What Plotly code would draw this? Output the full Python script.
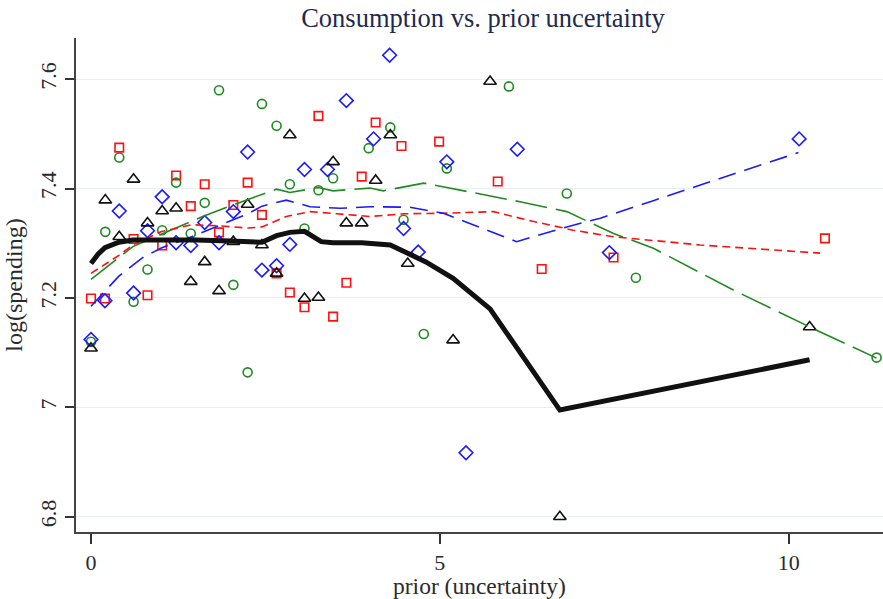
import plotly.graph_objects as go

# ---- data ----
green_x = [0, 0.205, 0.405, 0.61, 0.81, 1.02, 1.22, 1.43, 1.63, 1.835, 2.04, 2.245, 2.45, 2.66,
           2.85, 3.06, 3.26, 3.47, 3.98, 4.29, 4.48, 4.77, 5.10, 5.99, 6.82, 7.81, 11.26]
green_y = [7.12, 7.321, 7.457, 7.193, 7.252, 7.324, 7.411, 7.318, 7.374, 7.580, 7.224, 7.064, 7.555, 7.515,
           7.408, 7.327, 7.397, 7.419, 7.474, 7.512, 7.343, 7.134, 7.437, 7.587, 7.391, 7.237, 7.091]

red_x = [0, 0.2, 0.405, 0.61, 0.81, 1.02, 1.22, 1.43, 1.63, 1.835, 2.04, 2.245, 2.45, 2.66,
         2.85, 3.06, 3.26, 3.47, 3.66, 3.88, 4.08, 4.45, 4.99, 5.83, 6.46, 7.49, 10.52]
red_y = [7.199, 7.199, 7.475, 7.308, 7.205, 7.296, 7.424, 7.368, 7.408, 7.320, 7.37, 7.411, 7.352, 7.245,
         7.210, 7.183, 7.533, 7.166, 7.228, 7.422, 7.521, 7.478, 7.486, 7.413, 7.253, 7.274, 7.309]

blue_x = [0, 0.2, 0.405, 0.61, 0.81, 1.02, 1.22, 1.43, 1.63, 1.835, 2.04, 2.245, 2.45, 2.66,
          2.85, 3.06, 3.39, 3.66, 4.05, 4.28, 4.48, 4.69, 5.10, 5.375, 6.11, 7.43, 10.15]
blue_y = [7.124, 7.195, 7.359, 7.209, 7.323, 7.385, 7.301, 7.296, 7.338, 7.301, 7.358, 7.467, 7.251, 7.259,
          7.298, 7.435, 7.435, 7.561, 7.491, 7.644, 7.327, 7.284, 7.449, 6.917, 7.472, 7.283, 7.491]

black_x = [0, 0.205, 0.405, 0.61, 0.81, 1.02, 1.22, 1.43, 1.63, 1.835, 2.04, 2.245, 2.45, 2.66,
           2.85, 3.06, 3.26, 3.47, 3.66, 3.88, 4.08, 4.29, 4.54, 5.19, 5.72, 6.72, 10.30]
black_y = [7.108, 7.379, 7.312, 7.417, 7.337, 7.359, 7.364, 7.230, 7.266, 7.213, 7.303, 7.371, 7.297, 7.245,
           7.498, 7.199, 7.201, 7.449, 7.337, 7.337, 7.415, 7.498, 7.263, 7.123, 7.596, 6.80, 7.147]

# smoothed fits
fit_black_x = [0, 0.1, 0.2, 0.4, 0.6, 1.0, 1.5, 2.0, 2.45, 2.66, 2.85, 3.06, 3.2, 3.3, 3.47, 3.88, 4.29, 4.54, 4.8, 5.19, 5.72, 6.72, 10.30]
fit_black_y = [7.263, 7.280, 7.292, 7.302, 7.306, 7.307, 7.306, 7.304, 7.302, 7.314, 7.320, 7.322, 7.312, 7.303,
               7.301, 7.301, 7.297, 7.282, 7.266, 7.236, 7.180, 6.995, 7.087]

fit_green_x = [0, 0.4, 0.6, 1.0, 1.6, 2.2, 2.66, 2.85, 3.26, 3.47, 4.0, 4.19, 4.77, 5.1, 6.15, 6.82, 7.49, 8.06, 9.2, 10.4, 11.26]
fit_green_y = [7.234, 7.273, 7.294, 7.316, 7.349, 7.378, 7.399, 7.393, 7.402, 7.396, 7.401, 7.396, 7.410, 7.402,
               7.376, 7.358, 7.318, 7.291, 7.215, 7.141, 7.090]

fit_red_x = [0, 0.4, 0.6, 1.0, 1.44, 1.82, 2.25, 2.45, 2.8, 3.14, 3.52, 4.0, 4.48, 5.05, 5.77, 6.24, 6.91, 7.49, 8.73, 10.45]
fit_red_y = [7.245, 7.278, 7.297, 7.321, 7.334, 7.332, 7.328, 7.330, 7.349, 7.358, 7.354, 7.349, 7.354, 7.355,
             7.358, 7.343, 7.324, 7.312, 7.297, 7.282]

fit_blue_x = [0, 0.4, 0.73, 1.0, 1.44, 1.87, 2.25, 2.45, 2.8, 3.14, 3.57, 4.0, 4.57, 5.05, 6.10, 6.82, 7.30, 8.06, 10.14]
fit_blue_y = [7.185, 7.240, 7.273, 7.291, 7.312, 7.334, 7.354, 7.368, 7.379, 7.367, 7.364, 7.367, 7.366, 7.355,
              7.303, 7.330, 7.346, 7.378, 7.466]

x_ticks = [0, 5, 10]
y_ticks = [6.8, 7.0, 7.2, 7.4, 7.6]
y_tick_text = ["6.8", "7", "7.2", "7.4", "7.6"]

GREEN = "#208a20"
RED = "#ff1010"
BLUE = "#1a1aff"
BLACK = "#111111"
FONT = "Liberation Serif"

fig = go.Figure()

def pts(x, y, sym, color, size):
    fig.add_trace(go.Scatter(
        x=x, y=y, mode="markers",
        marker=dict(symbol=sym, size=size, color=color, line=dict(color=color, width=1.6)),
        hoverinfo="skip", showlegend=False))

pts(green_x, green_y, "circle-open", GREEN, 9)
pts(red_x, red_y, "square-open", RED, 8.5)
pts(blue_x, blue_y, "diamond-open", BLUE, 10.5)
pts(black_x, black_y, "triangle-up-open", BLACK, 11)

def fit(x, y, color, width, dash):
    fig.add_trace(go.Scatter(
        x=x, y=y, mode="lines", line=dict(color=color, width=width, dash=dash),
        hoverinfo="skip", showlegend=False))

fit(fit_green_x, fit_green_y, GREEN, 1.6, "32px,9px")
fit(fit_red_x, fit_red_y, RED, 1.6, "8px,5px")
fit(fit_blue_x, fit_blue_y, BLUE, 1.6, "18px,9px")
fit(fit_black_x, fit_black_y, BLACK, 5, "solid")

fig.update_layout(
    width=883, height=599,
    margin=dict(l=76, r=0, t=38, b=67),
    paper_bgcolor="white", plot_bgcolor="white",
    showlegend=False,
    font=dict(family=FONT, color="#333333", size=22),
    title=dict(text="Consumption vs. prior uncertainty", x=0.547, xanchor="center",
               y=1 - 18 / 599, yanchor="middle", yref="container",
               font=dict(family=FONT, size=26.5, color="#1f2a4e")),
)
fig.update_xaxes(
    range=[-0.215, 11.352], tickvals=x_ticks, ticktext=[str(v) for v in x_ticks],
    showgrid=False, zeroline=False, showline=True, linecolor="#444444", linewidth=1.5,
    ticks="outside", ticklen=10, tickwidth=1.5, tickcolor="#333333",
    tickfont=dict(family=FONT, size=22, color="#2a2a2a"),
    title=dict(text="prior (uncertainty)", font=dict(family=FONT, size=23.5, color="#2a2a2a"), standoff=7),
)
fig.update_yaxes(
    range=[6.772, 7.6755], tickvals=y_ticks, ticktext=y_tick_text, tickangle=-90,
    showgrid=True, gridcolor="#e6eff2", gridwidth=1.2, zeroline=False,
    showline=True, linecolor="#444444", linewidth=1.5,
    ticks="outside", ticklen=9, tickwidth=1.5, tickcolor="#333333",
    tickfont=dict(family=FONT, size=22, color="#2a2a2a"),
    title=dict(text="log(spending)", font=dict(family=FONT, size=24, color="#2a2a2a"), standoff=7),
)

fig.write_html("out.html")
